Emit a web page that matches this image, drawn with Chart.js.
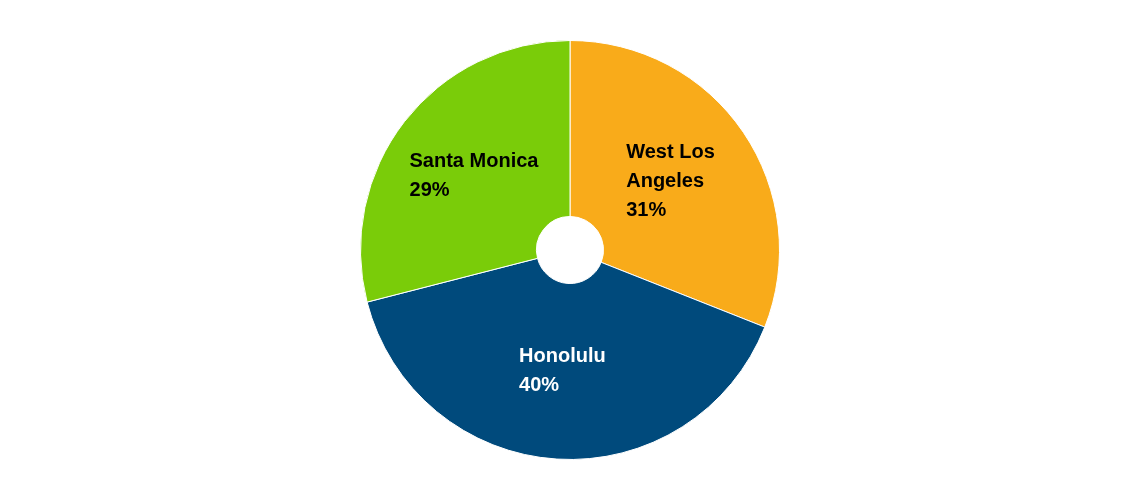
<!DOCTYPE html>
<html><head><meta charset="utf-8">
<script src="https://cdn.jsdelivr.net/npm/chart.js@4"></script>
<style>html,body{margin:0;padding:0;background:#fff}#w{width:1140px;height:500px}</style>
</head><body><div id="w"><canvas id="c"></canvas></div>
<script>
const categories = ["West Los Angeles", "Honolulu", "Santa Monica"];
const labelLines = [["West Los", "Angeles"], ["Honolulu"], ["Santa Monica"]];
const values = [31, 40, 29];
const colors = ["#F9AB1A", "#004A7C", "#7ACC09"];
const textColors = ["#000000", "#ffffff", "#000000"];

const labelPlugin = {
  id: 'sliceLabels',
  afterDatasetsDraw(chart) {
    const ctx = chart.ctx;
    const meta = chart.getDatasetMeta(0);
    ctx.save();
    ctx.font = 'bold 20px "Liberation Sans", Arial, sans-serif';
    ctx.textBaseline = 'middle';
    ctx.textAlign = 'left';
    meta.data.forEach((arc, i) => {
      const p = arc.getProps(['x','y','startAngle','endAngle','outerRadius'], true);
      const mid = (p.startAngle + p.endAngle) / 2;
      const r = p.outerRadius * 0.58;
      const cx = p.x + Math.cos(mid) * r;
      const cy = p.y + Math.sin(mid) * r;
      const lines = labelLines[i].concat([values[i] + '%']);
      let w = 0;
      lines.forEach(l => { w = Math.max(w, ctx.measureText(l).width); });
      const lh = 29;
      const top = cy - (lines.length - 1) * lh / 2;
      ctx.fillStyle = textColors[i];
      lines.forEach((l, k) => ctx.fillText(l, cx - w / 2, top + k * lh));
    });
    ctx.restore();
  }
};

new Chart(document.getElementById('c'), {
  type: 'doughnut',
  data: { labels: categories, datasets: [{ data: values, backgroundColor: colors, borderColor: '#ffffff', borderWidth: 1 }] },
  options: {
    responsive: true, maintainAspectRatio: false, animation: false,
    cutout: '16%',
    layout: { padding: { top: 40, bottom: 40 } },
    plugins: { legend: { display: false }, tooltip: { enabled: false } }
  },
  plugins: [labelPlugin]
});
</script></body></html>
